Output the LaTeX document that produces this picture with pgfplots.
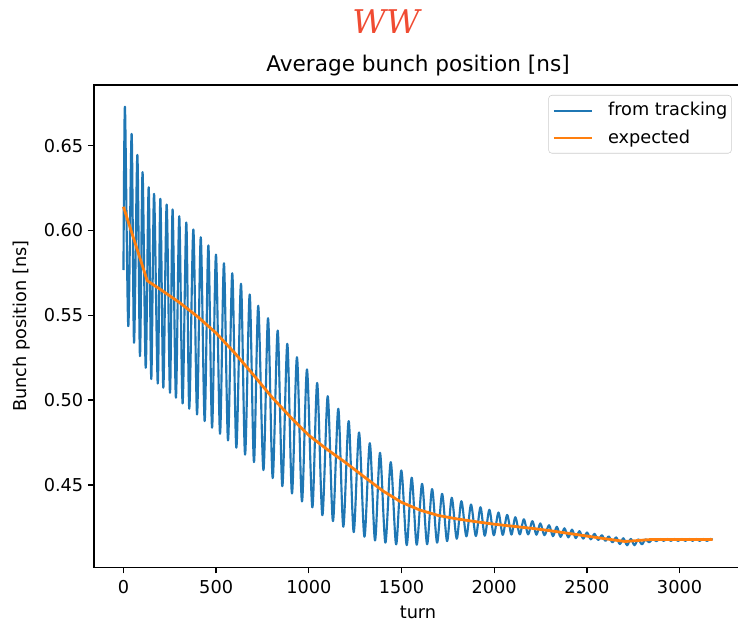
\documentclass[border=0pt]{standalone}
\usepackage{fontspec}
\setmainfont{DejaVu Sans}
\newfontfamily\wwfont{DejaVu Serif}
\usepackage{pgfplots}
\pgfplotsset{compat=1.18}
\definecolor{mplblue}{HTML}{1F77B4}
\definecolor{mplorange}{HTML}{FF7F0E}
\definecolor{wwred}{RGB}{240,75,50}
\begin{document}
\begin{tikzpicture}
\begin{axis}[
  scale only axis, width=486pt, height=361.7pt,
  xmin=-159, xmax=3337, ymin=0.4014, ymax=0.6858,
  xtick={0,500,1000,1500,2000,2500,3000},
  ytick={0.45,0.50,0.55,0.60,0.65},
  tick pos=left, tick align=outside, major tick length=4.5pt,
  every tick/.style={black, line width=1pt},
  axis line style={line width=1pt},
  /pgf/number format/assume math mode=true,
  ticklabel style={font=\fontsize{13.3}{15}\selectfont},
  xticklabel style={yshift=-2pt, /pgf/number format/1000 sep={}},
  yticklabel style={/pgf/number format/.cd, fixed, fixed zerofill, precision=2},
  label style={font=\fontsize{13.3}{15}\selectfont},
  xlabel={turn}, ylabel={Bunch position [ns]},
  xlabel style={at={(axis description cs:0.5,-0.093)}, anchor=center, inner sep=1pt},
  ylabel style={at={(axis description cs:-0.111,0.5)}, anchor=center},
  title={Average bunch position [ns]},
  every axis title shift=0pt,
  title style={at={(axis description cs:0.5,1.028)}, anchor=base, font=\fontsize{16.2}{19}\selectfont},
  extra description/.code={\node[anchor=base, text=wwred, font=\wwfont\itshape\fontsize{24.5}{28}\selectfont] at (0.4506,1.1058) {WW};},
  legend style={at={(axis description cs:1,1)}, anchor=north east, xshift=-7.7pt, yshift=-7.5pt,
    draw=black!20, rounded corners=2.5pt, fill=white, font=\fontsize{13.3}{15}\selectfont,
    inner xsep=3pt, inner ysep=5pt, row sep=7.5pt, column sep=11pt,
    nodes={inner sep=0pt, text height=10.5pt, text depth=2.5pt}},
  legend cell align=left,
  legend image code/.code={\draw[#1] (0pt,0pt) -- (28.5pt,0pt);},
]
\addplot[mplblue, line width=1.6pt, line join=round, smooth, tension=0.5] coordinates {
(0,0.5767) (8,0.6730) (26,0.5436) (44,0.6570) (57,0.5338) (75,0.6446) (89,0.5259) (103,0.6344)
(120,0.5190) (136,0.6255) (150,0.5124) (165,0.6216) (185,0.5098) (199,0.6187) (215,0.5073)
(233,0.6153) (251,0.5043) (265,0.6124) (283,0.5014) (301,0.6084) (319,0.4980) (339,0.6047)
(355,0.4949) (377,0.6006) (397,0.4915) (417,0.5960) (438,0.4876) (458,0.5912) (478,0.4837)
(499,0.5858) (521,0.4801) (542,0.5807) (564,0.4762) (587,0.5748) (609,0.4719) (634,0.5686)
(656,0.4678) (681,0.5623) (704,0.4634) (727,0.5556) (755,0.4587) (780,0.5483) (805,0.4540)
(832,0.5410) (857,0.4492) (884,0.5332) (909,0.4449) (936,0.5253) (963,0.4402) (990,0.5181)
(1019,0.4367) (1045,0.5101) (1073,0.4321) (1102,0.5023) (1130,0.4286) (1159,0.4949)
(1186,0.4253) (1215,0.4876) (1242,0.4221) (1271,0.4809) (1300,0.4194) (1329,0.4746)
(1357,0.4172) (1384,0.4689) (1413,0.4159) (1442,0.4634) (1471,0.4149) (1499,0.4585)
(1528,0.4145) (1555,0.4542) (1582,0.4147) (1611,0.4506) (1638,0.4150) (1665,0.4475)
(1692,0.4159) (1719,0.4447) (1746,0.4168) (1771,0.4424) (1798,0.4182) (1823,0.4404)
(1850,0.4196) (1875,0.4384) (1901,0.4198) (1926,0.4368) (1949,0.4200) (1974,0.4353)
(1998,0.4203) (2023,0.4337) (2046,0.4205) (2070,0.4323) (2093,0.4207) (2114,0.4309)
(2138,0.4208) (2160,0.4297) (2183,0.4208) (2206,0.4286) (2228,0.4206) (2249,0.4273)
(2271,0.4203) (2296,0.4262) (2317,0.4197) (2338,0.4253) (2358,0.4193) (2379,0.4244)
(2400,0.4190) (2420,0.4236) (2440,0.4186) (2460,0.4227) (2480,0.4183) (2501,0.4219)
(2521,0.4179) (2541,0.4211) (2561,0.4175) (2581,0.4203) (2600,0.4170) (2618,0.4196)
(2638,0.4161) (2658,0.4190) (2678,0.4151) (2697,0.4185) (2717,0.4144) (2737,0.4181)
(2757,0.4144) (2777,0.4179) (2797,0.4149) (2816,0.4179) (2836,0.4161) (2855,0.4180)
(2875,0.4168) (2894,0.4181) (2914,0.4170) (2933,0.4181) (2953,0.4170) (2972,0.4181)
(2992,0.4170) (3011,0.4181) (3031,0.4170) (3050,0.4181) (3070,0.4170) (3089,0.4181)
(3109,0.4170) (3128,0.4181) (3148,0.4170) (3167,0.4181) (3178,0.4176)
};
\addlegendentry{from tracking}
\addplot[mplorange, line width=2.1pt, line join=round] coordinates {
(0,0.6140) (128,0.5704) (200,0.5652) (300,0.5577) (400,0.5492) (500,0.5395) (600,0.5278)
(700,0.5150) (800,0.5018) (900,0.4901) (1000,0.4792) (1100,0.4708) (1200,0.4630)
(1300,0.4546) (1400,0.4464) (1500,0.4397) (1600,0.4351) (1700,0.4319) (1800,0.4299)
(1900,0.4283) (2000,0.4268) (2100,0.4256) (2200,0.4244) (2300,0.4230) (2400,0.4214)
(2500,0.4198) (2600,0.4182) (2706,0.4166) (2850,0.4178) (3178,0.4178)
};
\addlegendentry{expected}
\end{axis}
\pgfresetboundingbox
\path ([shift={(-70.5pt,-40.3pt)}]current axis.south west) rectangle ([shift={(-3pt,63.75pt)}]current axis.north east);
\end{tikzpicture}
\end{document}
